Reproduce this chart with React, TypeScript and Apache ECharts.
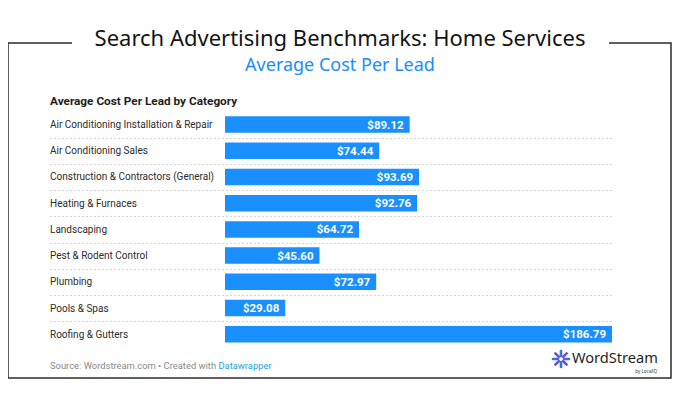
import React, { useEffect, useRef } from "react";
import * as echarts from "echarts";

const categories = [
  "Air Conditioning Installation & Repair",
  "Air Conditioning Sales",
  "Construction & Contractors (General)",
  "Heating & Furnaces",
  "Landscaping",
  "Pest & Rodent Control",
  "Plumbing",
  "Pools & Spas",
  "Roofing & Gutters",
];
const costPerLead = [89.12, 74.44, 93.69, 92.76, 64.72, 45.6, 72.97, 29.08, 186.79];

const TITLE = "Search Advertising Benchmarks: Home Services";
const SUBTITLE = "Average Cost Per Lead";
const HEADING = "Average Cost Per Lead by Category";

export default function App() {
  const ref = useRef<HTMLDivElement>(null);
  useEffect(() => {
    if (!ref.current) return;
    const chart = echarts.init(ref.current, undefined, { renderer: "svg" });
    const frameColor = "#2b2b2b";
    const staticGraphics: any[] = [
      {
        type: "polyline",
        shape: { points: [[72, 43], [8, 43], [8, 378], [671, 378], [671, 43], [609, 43]] },
        style: { stroke: frameColor, lineWidth: 1.5, fill: null },
        silent: true,
      },
      {
        type: "text",
        x: 340,
        y: 37,
        style: {
          text: TITLE,
          font: '400 22px "Noto Sans", sans-serif',
          fill: "#141414",
          align: "center",
          verticalAlign: "middle",
        },
      },
      {
        type: "text",
        x: 340,
        y: 64,
        style: {
          text: SUBTITLE,
          font: '400 18px "Noto Sans", sans-serif',
          fill: "#1a8cff",
          align: "center",
          verticalAlign: "middle",
        },
      },
      {
        type: "text",
        x: 50,
        y: 101,
        style: {
          text: HEADING,
          font: '700 11.8px Roboto, sans-serif',
          fill: "#1e1e1e",
          align: "left",
          verticalAlign: "middle",
        },
      },
      {
        type: "text",
        x: 50,
        y: 365,
        style: {
          rich: {
            g: { fontFamily: "Roboto", fontSize: 9.4, fill: "#8a8a8a" },
            b: { fontFamily: "Roboto", fontSize: 9.4, fill: "#2a9fd6" },
          },
          text: "{g|Source: Wordstream.com • Created with }{b|Datawrapper}",
          align: "left",
          verticalAlign: "middle",
        },
      },
      {
        type: "group",
        x: 561,
        y: 359,
        children: [0, 45, 90, 135, 180, 225, 270, 315].map((deg, i) => {
          const a = (deg * Math.PI) / 180;
          return {
            type: "line",
            shape: { x1: Math.cos(a) * 3, y1: Math.sin(a) * 3, x2: Math.cos(a) * 8, y2: Math.sin(a) * 8 },
            style: { stroke: i % 2 ? "#6a4fd6" : "#3a6ee8", lineWidth: 2.6, lineCap: "round" },
          };
        }),
      },
      {
        type: "text",
        x: 572,
        y: 357,
        style: {
          text: "WordStream",
          font: '400 14.6px "Noto Sans", sans-serif',
          fill: "#1f1f1f",
          align: "left",
          verticalAlign: "middle",
        },
      },
      {
        type: "text",
        x: 657,
        y: 370.5,
        style: {
          text: "by LocaliQ",
          font: '400 4.5px "Noto Sans", sans-serif',
          fill: "#333",
          align: "right",
          verticalAlign: "middle",
        },
      },
    ];

    const option: any = {
      animation: false,
      backgroundColor: "#ffffff",
      grid: { left: 225, right: 68, top: 111.4, bottom: 51.6, containLabel: false },
      xAxis: {
        type: "value",
        min: 0,
        max: "dataMax",
        show: false,
      },
      yAxis: {
        type: "category",
        data: categories,
        inverse: true,
        axisLine: { show: false },
        axisTick: { show: false },
        splitLine: { show: false },
        axisLabel: {
          align: "left",
          margin: 175,
          color: "#2b2b2b",
          fontFamily: "Roboto",
          fontSize: 10,
        },
      },
      series: [
        {
          type: "bar",
          data: costPerLead,
          barWidth: 16.5,
          itemStyle: { color: "#1a8fff" },
          label: {
            show: true,
            position: "insideRight",
            distance: 6,
            color: "#ffffff",
            fontFamily: "Roboto",
            fontWeight: "bold",
            fontSize: 11.5,
            formatter: (p: any) => "$" + Number(p.value).toFixed(2),
          },
        },
      ],
      graphic: staticGraphics,
    };
    chart.setOption(option);

    const seps: any[] = [];
    for (let i = 0; i < categories.length - 1; i++) {
      const y0 = chart.convertToPixel({ yAxisIndex: 0 }, i) as number;
      const y1 = chart.convertToPixel({ yAxisIndex: 0 }, i + 1) as number;
      const xEnd = chart.convertToPixel({ xAxisIndex: 0 }, costPerLead[costPerLead.length - 1]) as number;
      const y = Math.round((y0 + y1) / 2) + 0.5;
      seps.push({
        type: "line",
        shape: { x1: 50, y1: y, x2: xEnd, y2: y },
        style: { stroke: "#d6d6d6", lineWidth: 1, lineDash: [2, 2] },
        silent: true,
      });
    }
    chart.setOption({ graphic: [...staticGraphics, ...seps] });

    return () => chart.dispose();
  }, []);
  return <div ref={ref} style={{ width: 680, height: 399, margin: -8 }} />;
}
